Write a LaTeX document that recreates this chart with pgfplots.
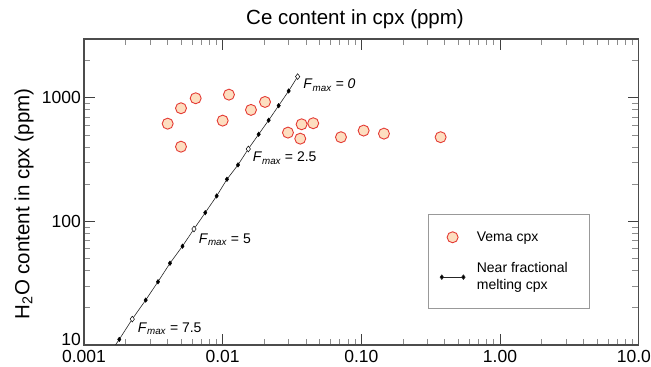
\documentclass[border=0pt]{standalone}
\usepackage{fontspec}
\setmainfont{Liberation Sans}
\usepackage{pgfplots}
\pgfplotsset{compat=1.18}
\usetikzlibrary{calc}
\definecolor{vred}{RGB}{228,58,52}
\definecolor{vfill}{RGB}{253,222,192}
\pgfplotsset{
  vemalegend/.style={legend image code/.code={\draw[##1] plot coordinates {(10.8pt,0pt)};}},
  linelegend/.style={legend image code/.code={\draw[##1] plot coordinates {(0pt,0pt) (21.6pt,0pt)};}},
}

\begin{document}
\begin{tikzpicture}
\begin{axis}[
  name=ax,
  xmode=log, ymode=log,
  scale only axis, width=554.7pt, height=306pt,
  xmin=0.001, xmax=10, ymin=10, ymax=3000,
  xtick={0.001,0.01,0.1,1,10},
  xticklabels={0.001,0.01,0.10,1.00,10.00},
  ytick={10,100,1000},
  yticklabels={\raisebox{-0.5pt}[0pt][0pt]{10},100,1000},
  minor xtick={0.002,0.003,0.004,0.005,0.006,0.007,0.008,0.009,
               0.02,0.03,0.04,0.05,0.06,0.07,0.08,0.09,
               0.2,0.3,0.4,0.5,0.6,0.7,0.8,0.9,
               2,3,4,5,6,7,8,9},
  minor ytick={20,30,40,50,60,70,80,90,200,300,400,500,600,700,800,900,2000},
  tick align=inside,
  xtick pos=both, ytick pos=both,
  major tick length=11pt, minor tick length=6.5pt,
  major tick style={black!75, line width=0.9pt},
  minor tick style={black!45, line width=0.8pt},
  axis line style={black!70, line width=1.1pt},
  tick label style={font=\fontsize{17.5}{20}\selectfont},
  xticklabel style={inner sep=0pt, yshift=-5pt},
  yticklabel style={inner sep=0pt, xshift=-3pt},
  title={Ce content in cpx (ppm)},
  title style={at={(axis description cs:0.4886,1)}, anchor=base, yshift=8pt,
               font=\fontsize{20.5}{24}\selectfont, inner sep=0pt},
  ylabel={H\textsubscript{2}O content in cpx (ppm)},
  ylabel style={at={(axis description cs:-0.108,0.461)}, anchor=center,
               font=\fontsize{20.5}{24}\selectfont, inner sep=0pt},
  legend style={at={(axis description cs:0.6196,0.4271)}, anchor=north west,
               draw=black!40, line width=0.8pt, fill=white,
               inner xsep=12pt, inner ysep=15pt, column sep=9.7pt, row sep=16pt,
               font=\fontsize{14}{17}\selectfont,
               cells={anchor=west, align=left}},
]

% Vema cpx
\addplot[only marks, mark=*, mark size=5.5pt,
  mark options={draw=vred, fill=vfill, line width=0.9pt}, vemalegend]
  table {
x y
0.004013 619
0.005006 825
0.006388 994
0.005006 403
0.011100 1063
0.010000 655
0.016000 800
0.020200 928
0.029570 524
0.037100 612
0.036270 468
0.044980 624
0.071300 481
0.103900 544
0.145600 514
0.373000 481
};
\addlegendentry{Vema cpx}

% near fractional melting line
\addplot[black!85, line width=0.6pt, no marks, forget plot] table {
x y
0.03472 1488
0.02991 1139
0.02534 866
0.02146 660
0.01818 508
0.01530 386
0.01290 287
0.01074 219.6
0.009054 160.9
0.007491 117.8
0.006210 86.9
0.005131 63.1
0.004169 45.9
0.003416 32.5
0.002785 23.1
0.002229 16.2
0.001797 11.1
0.001448 7.8
};
\addplot[only marks, mark=diamond*, mark size=2.3pt,
  mark options={draw=black, fill=black}, forget plot] table {
x y
0.02991 1139
0.02534 866
0.02146 660
0.01818 508
0.01290 287
0.01074 219.6
0.009054 160.9
0.007491 117.8
0.005131 63.1
0.004169 45.9
0.003416 32.5
0.002785 23.1
0.001797 11.1
};
\addplot[only marks, mark=diamond*, mark size=2.9pt,
  mark options={draw=black, fill=white, line width=0.5pt}, forget plot] table {
x y
0.03472 1488
0.01530 386
0.006210 86.9
0.002229 16.2
};
\addlegendimage{black!85, line width=0.6pt, mark=diamond*, mark size=2.3pt,
  mark options={fill=black}, linelegend}
\addlegendentry{Near fractional\hspace*{7.7pt}\\melting cpx}

\node[anchor=base west, inner sep=0pt, font=\fontsize{14}{17}\selectfont]
  at (axis cs:0.03813,1183) {\textit{F}\textsubscript{\itshape max}\textit{ = 0}};
\node[anchor=base west, inner sep=0pt, font=\fontsize{14}{17}\selectfont]
  at (axis cs:0.01646,303) {\textit{F}\textsubscript{\itshape max} = 2.5};
\node[anchor=base west, inner sep=0pt, font=\fontsize{14}{17}\selectfont]
  at (axis cs:0.006714,66.4) {\textit{F}\textsubscript{\itshape max} = 5};
\node[anchor=base west, inner sep=0pt, font=\fontsize{14}{17}\selectfont]
  at (axis cs:0.002439,12.67) {\textit{F}\textsubscript{\itshape max} = 7.5};
\end{axis}
\pgfresetboundingbox
\path[use as bounding box] ($(ax.south west)+(-84pt,-22pt)$) rectangle ($(ax.north east)+(12.3pt,39pt)$);
\end{tikzpicture}
\end{document}
